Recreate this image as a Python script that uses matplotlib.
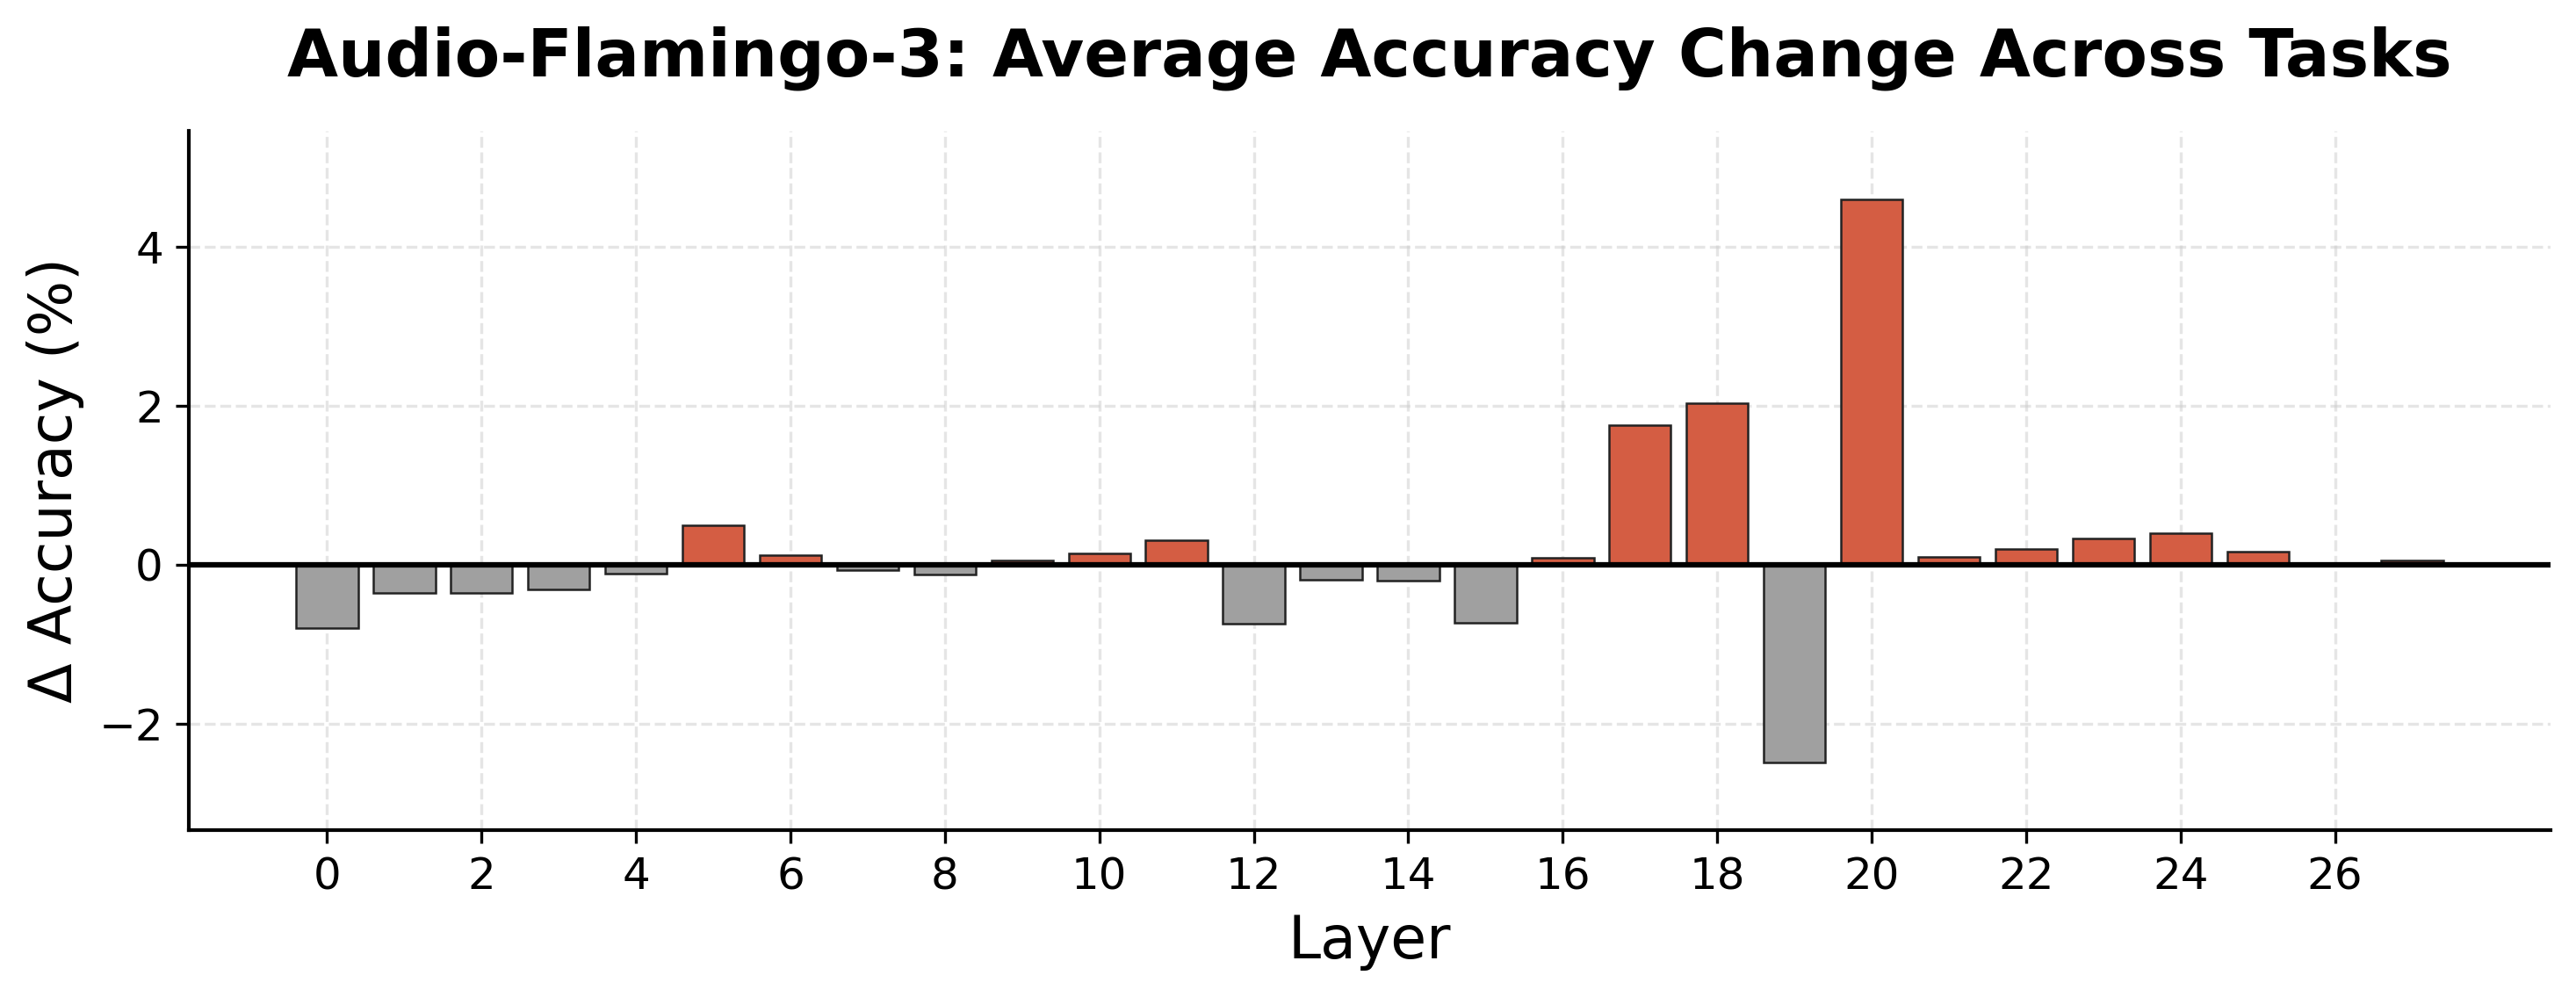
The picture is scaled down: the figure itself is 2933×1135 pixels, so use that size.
import numpy as np
import matplotlib
matplotlib.use("Agg")
import matplotlib.pyplot as plt

plt.rcParams['font.family'] = ['DejaVu Sans']

# 每层平均准确率变化 (%)
layers = list(range(28))
delta_acc = [-0.80, -0.35, -0.36, -0.31, -0.11, 0.50, 0.12, -0.07, -0.12, 0.05,
             0.14, 0.31, -0.74, -0.19, -0.20, -0.73, 0.09, 1.76, 2.03, -2.49,
             4.60, 0.10, 0.20, 0.33, 0.40, 0.17, 0.00, 0.05]
xticks = list(range(0, 27, 2))
yticks = [-2, 0, 2, 4]

pos_color = '#d45d43'
neg_color = '#a0a0a0'
bar_colors = [pos_color if v > 0 else neg_color for v in delta_acc]

fig = plt.figure(figsize=(2933 / 300, 1135 / 300), dpi=300)
ax = fig.add_axes([215 / 2933, 1 - 945 / 1135, (2904 - 215) / 2933, (945 - 149) / 1135])

ax.bar(layers, delta_acc, width=0.8, color=bar_colors,
       edgecolor='#222222', linewidth=0.6, zorder=3)
ax.axhline(0, color='black', linewidth=1.5, zorder=4)

ax.set_xticks(xticks)
ax.set_yticks(yticks)
ax.set_ylim(-3.34, 5.46)
ax.tick_params(axis='both', labelsize=12)
ax.set_xlabel('Layer', fontsize=16)
ax.set_ylabel('Δ Accuracy (%)', fontsize=16)
ax.set_title('Audio-Flamingo-3: Average Accuracy Change Across Tasks',
             fontsize=18, fontweight='bold', pad=15)

ax.grid(True, linestyle='--', linewidth=0.8, color='#cccccc', alpha=0.5, zorder=0)
ax.set_axisbelow(True)
ax.spines['top'].set_visible(False)
ax.spines['right'].set_visible(False)
for s in ['left', 'bottom']:
    ax.spines[s].set_linewidth(1.0)

fig.savefig('out.png', dpi=300)
